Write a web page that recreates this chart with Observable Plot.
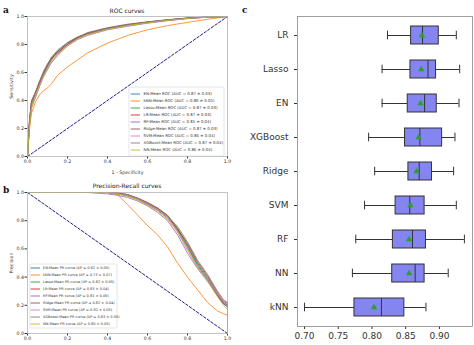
<!DOCTYPE html>
<html><head><meta charset="utf-8">
<script src="https://cdn.jsdelivr.net/npm/d3@7"></script>
<script src="https://cdn.jsdelivr.net/npm/@observablehq/plot@0.6"></script>
<style>
html,body{margin:0;padding:0;overflow:hidden;background:#fff;font-family:"DejaVu Sans",sans-serif;}
#root{position:relative;width:474px;height:345px;overflow:hidden;background:#fff;}
.txt{position:absolute;white-space:nowrap;color:#222;}
.title{font-size:6px;transform:translateX(-50%);}
.letter{font-family:"DejaVu Serif",serif;font-weight:bold;font-size:9px;color:#111;}
</style></head>
<body><div id="root"></div>
<script>
// ---------- data: ROC / PR curves ----------
const curveModels = ["EN","kNN","Lasso","LR","RF","Ridge","SVM","XGBoost","NN"];
const curveColors = ["#1f77b4","#ff7f0e","#2ca02c","#d62728","#9467bd","#8c564b","#e377c2","#7f7f7f","#bcbd22"];
const rocAUC = ["0.87 ± 0.03","0.80 ± 0.05","0.87 ± 0.03","0.87 ± 0.03","0.85 ± 0.04","0.87 ± 0.03","0.86 ± 0.04","0.87 ± 0.04","0.86 ± 0.04"];
const prAP = ["0.82 ± 0.05","0.73 ± 0.07","0.82 ± 0.05","0.83 ± 0.04","0.81 ± 0.05","0.82 ± 0.04","0.82 ± 0.05","0.83 ± 0.05","0.80 ± 0.05"];

const fprGrid = [0,0.01,0.02,0.04,0.06,0.08,0.1,0.12,0.15,0.2,0.25,0.3,0.4,0.5,0.6,0.7,0.8,0.9,1.0];
const tprEN      = [0,0.24,0.37,0.45,0.52,0.59,0.64,0.70,0.74,0.80,0.85,0.88,0.915,0.94,0.96,0.975,0.988,0.996,1];
const tprKNN     = [0,0.20,0.31,0.39,0.44,0.47,0.49,0.52,0.58,0.64,0.69,0.74,0.81,0.865,0.905,0.935,0.958,0.98,1];
const tprLasso   = [0,0.25,0.38,0.44,0.53,0.58,0.65,0.69,0.75,0.81,0.85,0.88,0.915,0.94,0.96,0.975,0.988,0.996,1];
const tprLR      = [0,0.26,0.39,0.46,0.52,0.60,0.66,0.70,0.74,0.80,0.845,0.875,0.912,0.938,0.958,0.974,0.987,0.996,1];
const tprRF      = [0,0.22,0.35,0.42,0.50,0.57,0.62,0.67,0.72,0.79,0.835,0.865,0.905,0.93,0.952,0.97,0.985,0.995,1];
const tprRidge   = [0,0.26,0.40,0.46,0.54,0.60,0.65,0.71,0.75,0.81,0.85,0.885,0.92,0.945,0.962,0.977,0.99,0.997,1];
const tprSVM     = [0,0.23,0.36,0.44,0.51,0.58,0.63,0.68,0.73,0.795,0.84,0.87,0.91,0.935,0.955,0.972,0.986,0.995,1];
const tprXGBoost = [0,0.25,0.38,0.46,0.53,0.61,0.66,0.71,0.76,0.815,0.855,0.88,0.915,0.94,0.96,0.975,0.988,0.996,1];
const tprNN      = [0,0.21,0.34,0.43,0.50,0.57,0.62,0.68,0.73,0.79,0.84,0.87,0.908,0.935,0.955,0.972,0.986,0.995,1];

const recallGrid = [0,0.1,0.2,0.3,0.4,0.45,0.5,0.55,0.6,0.65,0.7,0.75,0.8,0.85,0.9,0.95,0.98,1.0,1.0];
const precEN      = [1,1,1,1,1,0.995,0.98,0.955,0.92,0.885,0.83,0.74,0.62,0.49,0.39,0.27,0.21,0.19,0];
const precKNN     = [1,1,1,1,1,0.985,0.915,0.84,0.765,0.70,0.615,0.50,0.40,0.31,0.22,0.16,0.14,0.13,0];
const precLasso   = [1,1,1,1,1,0.995,0.985,0.96,0.925,0.89,0.84,0.75,0.63,0.50,0.40,0.28,0.22,0.20,0];
const precLR      = [1,1,1,1,1,0.997,0.985,0.96,0.93,0.89,0.835,0.74,0.64,0.51,0.41,0.29,0.23,0.21,0];
const precRF      = [1,1,1,1,0.99,0.98,0.965,0.94,0.905,0.86,0.80,0.70,0.57,0.46,0.37,0.27,0.22,0.20,0];
const precRidge   = [1,1,1,1,1,0.99,0.975,0.95,0.915,0.875,0.82,0.73,0.61,0.48,0.38,0.27,0.21,0.19,0];
const precSVM     = [1,1,1,1,1,0.99,0.98,0.955,0.92,0.88,0.83,0.72,0.59,0.47,0.38,0.28,0.23,0.22,0];
const precXGBoost = [1,1,1,1,1,0.995,0.985,0.96,0.925,0.885,0.83,0.76,0.65,0.52,0.42,0.30,0.24,0.22,0];
const precNN      = [1,1,1,1,1,0.99,0.975,0.95,0.91,0.87,0.81,0.72,0.60,0.47,0.37,0.26,0.20,0.17,0];

const chanceX = [0,1];
const rocChanceY = [0,1];
const prChanceY = [1,0];
const unitTicks = [0,0.2,0.4,0.6,0.8,1.0];

// ---------- data: box plot (AUC per model) ----------
const boxModels = ["LR","Lasso","EN","XGBoost","Ridge","SVM","RF","NN","kNN"];
const whiskLo = [0.823,0.815,0.815,0.795,0.804,0.789,0.776,0.771,0.700];
const q1      = [0.858,0.857,0.853,0.849,0.854,0.835,0.831,0.830,0.774];
const medians = [0.875,0.883,0.878,0.871,0.870,0.856,0.860,0.864,0.814];
const q3      = [0.899,0.895,0.896,0.904,0.889,0.878,0.880,0.878,0.848];
const whiskHi = [0.925,0.930,0.929,0.923,0.921,0.925,0.937,0.913,0.880];
const means   = [0.874,0.873,0.872,0.869,0.866,0.857,0.855,0.855,0.803];
const boxTicks = [0.70,0.75,0.80,0.85,0.90];

// ---------- build tables ----------
const rocTPR = [tprEN,tprKNN,tprLasso,tprLR,tprRF,tprRidge,tprSVM,tprXGBoost,tprNN];
const prPrec = [precEN,precKNN,precLasso,precLR,precRF,precRidge,precSVM,precXGBoost,precNN];
const rocRows = curveModels.flatMap((m,i)=>fprGrid.map((f,j)=>({model:m,x:f,y:rocTPR[i][j]})));
const prRows = curveModels.flatMap((m,i)=>recallGrid.map((r,j)=>({model:m,x:r,y:prPrec[i][j]})));
const rocChance = chanceX.map((x,i)=>({x,y:rocChanceY[i]}));
const prChance = chanceX.map((x,i)=>({x,y:prChanceY[i]}));
const boxRows = boxModels.map((m,i)=>({model:m,lo:whiskLo[i],q1:q1[i],med:medians[i],q3:q3[i],hi:whiskHi[i],mean:means[i]}));

const root = document.getElementById("root");
function place(el,left,top){el.style.position="absolute";el.style.left=left+"px";el.style.top=top+"px";root.appendChild(el);}
function addText(txt,cls,left,top){const d=document.createElement("div");d.className="txt "+cls;d.textContent=txt;d.style.left=left+"px";d.style.top=top+"px";root.appendChild(d);}

const smallStyle = {fontSize:"4.7px",fontFamily:"DejaVu Sans",color:"#333",background:"transparent",overflow:"visible"};

function curvePanel(rows, chance, xlabel, ylabel, h, mt, mb, xOff){
  return Plot.plot({
    width:240,height:h,marginLeft:27,marginRight:13,marginTop:mt,marginBottom:mb,
    style:smallStyle,
    x:{domain:[0,1],ticks:unitTicks,tickFormat:d3.format(".1f"),tickSize:2.5,tickPadding:1,label:xlabel,labelAnchor:"center",labelArrow:"none",labelOffset:xOff},
    y:{domain:[0,1],ticks:unitTicks,tickFormat:d3.format(".1f"),tickSize:2.5,tickPadding:1,label:ylabel,labelAnchor:"center",labelArrow:"none",labelOffset:18},
    color:{domain:curveModels,range:curveColors},
    marks:[
      Plot.line(chance,{x:"x",y:"y",stroke:"#000080",strokeWidth:0.9,strokeDasharray:"2.6,1.8"}),
      Plot.line(rows,{x:"x",y:"y",z:"model",stroke:"model",strokeWidth:0.9,strokeOpacity:0.9}),
      Plot.frame({stroke:"#aaa",strokeWidth:0.7})
    ]
  });
}

function legendPanel(labels, w, h, fs, x0, x1, tx){
  const svg = Plot.plot({
    width:w,height:h,margin:0,
    style:{fontSize:fs+"px",fontFamily:"DejaVu Sans",color:"#333",background:"transparent",overflow:"visible"},
    x:{axis:null},
    y:{type:"band",domain:labels,padding:0,axis:null},
    marks:[
      Plot.frame({fill:"white",fillOpacity:0.9,stroke:"#d5d5d5",strokeWidth:0.6,rx:1.5,inset:0.5}),
      Plot.tickY(labels,{y:d=>d,stroke:(d,i)=>curveColors[i],strokeWidth:0.9,insetLeft:x0,insetRight:w-x1}),
      Plot.text(labels,{y:d=>d,text:d=>d,frameAnchor:"left",textAnchor:"start",dx:tx,fill:"#333"})
    ]
  });
  return svg;
}

// panel a
place(curvePanel(rocRows,rocChance,"1 - Specificity","Sensitivity",175,16,19,17),0,0);
place(legendPanel(curveModels.map((m,i)=>`${m}:Mean ROC (AUC = ${rocAUC[i]})`),96,70,3.9,2.7,12,15),128,86);
// panel b
place(curvePanel(prRows,prChance,"Recall","Precision",185,17,27,15),0,175);
place(legendPanel(curveModels.map((m,i)=>`${m}:Mean PR curve (AP = ${prAP[i]})`),88,65,3.5,1.7,11,13.5),29,263);

// panel c
const boxPlot = Plot.plot({
  width:234,height:345,marginLeft:57,marginRight:2,marginTop:16,marginBottom:19,
  style:{fontSize:"9px",fontFamily:"DejaVu Sans",color:"#333",background:"transparent",overflow:"visible"},
  x:{domain:[0.6896,0.949],ticks:boxTicks,tickFormat:d3.format(".2f"),tickSize:3,tickPadding:3,label:null},
  y:{type:"band",domain:boxModels,padding:0,tickSize:3,tickPadding:6,label:null},
  marks:[
    Plot.ruleY(boxRows,{y:"model",x1:"lo",x2:"q1",stroke:"#333",strokeWidth:1}),
    Plot.ruleY(boxRows,{y:"model",x1:"q3",x2:"hi",stroke:"#333",strokeWidth:1}),
    Plot.tickX(boxRows,{x:"lo",y:"model",stroke:"#333",strokeWidth:1,insetTop:12.7,insetBottom:12.7}),
    Plot.tickX(boxRows,{x:"hi",y:"model",stroke:"#333",strokeWidth:1,insetTop:12.7,insetBottom:12.7}),
    Plot.barX(boxRows,{x1:"q1",x2:"q3",y:"model",fill:"#8585f2",stroke:"#333",strokeWidth:1,insetTop:8,insetBottom:8}),
    Plot.tickX(boxRows,{x:"med",y:"model",stroke:"#333",strokeWidth:1,insetTop:8,insetBottom:8}),
    Plot.dot(boxRows,{x:"mean",y:"model",symbol:"triangle",r:2.4,fill:"#2ca02c",stroke:"none"}),
    Plot.frame({stroke:"#888",strokeWidth:0.8})
  ]
});
place(boxPlot,240,0);

// titles and panel letters
addText("ROC curves","title",127,6.5);
addText("Precision-Recall curves","title",127,181.5);
addText("a","letter",3,5);
addText("b","letter",3,185);
addText("c","letter",242,5);
</script>
</body></html>
